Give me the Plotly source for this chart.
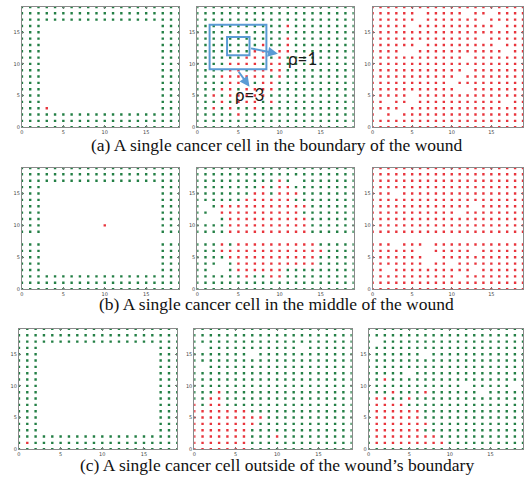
import plotly.graph_objects as go

# ---------------- data: grid states per panel (rows from y=19 down to y=0, x=0..19) -------------
# 'g' = healthy (green) cell, 'r' = cancer (red) cell, '.' = empty site
panel_a1 = [
    "gggggggggggggggggggg", "gggggggggggggggggggg", "gggggggggggggggggggg",
    "ggg..............ggg", "ggg..............ggg", "ggg..............ggg",
    "ggg..............ggg", "ggg..............ggg", "ggg..............ggg",
    "ggg..............ggg", "ggg..............ggg", "ggg..............ggg",
    "ggg..............ggg", "ggg..............ggg", "ggg..............ggg",
    "ggg..............ggg", "gggr.............ggg",
    "gggggggggggggggggggg", "gggggggggggggggggggg", "gggggggggggggggggggg",
]
panel_a2 = [
    "gggggggggggggggggggg", "gggggggggggggggggggg", "gggggggggggggggggggg",
    "gggggggggggrgggggggg", "gggggggggggggggggggg", "gggggggggggrgggggggg",
    "ggggggggrggrgggggggg", "gggggggrrgrrgggggggg", "ggggggrrrgrggggggggg",
    "ggggrrrrgrrggggggggg", "ggggrrgrrrrggggggggg", "gggrrrrrrgrggggggggg",
    "ggggrrrgrrgggggggggg", "gggrrgrrrrgggggggggg", "ggrgrrrrrggggggggggg",
    "gggrgrrrgrgggggggggg", "ggrgrggrgggggggggggg", "gggggrgggggggggggggg",
    "gggggggggggggggggggg", "gggggggggggggggggggg",
]
panel_a3 = [
    "rrrrrrrrrrrrrrrrrrrr", "rrrrrr.rrrrr.rr.rrrr", "rrrrrr.rrrrrrr.rrrrr",
    "rrrrr.rrrrrrrrrr.rrr", "rrrrrrrrrrrrrrrrrrrr", "rrrrrrrrrrrrrr.rrrrr",
    "rrrrrr.rrrrrrrrr.rrr", "rrrr..rrrrrrrrrrr.rr", "rrrrrrrrrrrr.rrrrrrr",
    "rrrrrrrrrrrrrrrrrrrr", "rrrrrrrrrrrr.rrrrrrr", "rrrrrrrrrrr.rrrrrrrr",
    "rrrrrrrrrr.rrrrrrrrr", "rrrrrrrrrrr..rrrrrrr", "rrrrr.rrrrrrrrrrrrrr",
    "rr.rr.rrrrrrrrrrr.rr", "rrrr.rrrrrrrrrrrrrrr", "r.r.rrrrrrrrrrrrrrrr",
    "rrrrrrrrrrrrrrrrrrrr", "rrrrrrrrrrrrrrrrrrrr",
]
panel_b1 = [
    "gggggggggggggggggggg", "gggggggggggggggggggg", "gggggggggggggggggggg",
    "ggg..............ggg", "ggg..............ggg", "ggg..............ggg",
    "ggg..............ggg", "ggg..............ggg", "ggg..............ggg",
    "ggg.......r......ggg", "ggg..............ggg", "....................",
    "ggg..............ggg", "ggg..............ggg", "ggg..............ggg",
    "ggg..............ggg", "ggg..............ggg",
    "gggggggggggggggggggg", "gggggggggggggggggggg", "gggggggggggggggggggg",
]
panel_b2 = [
    "gggggggggggggggggggg", "gggggggggggggggggggg", "ggggggggggrg.ggggggg",
    "ggggggggrgrrgggggggg", "gggggggrrgrrrggggggg", "ggggggrrrrrrgggggggg",
    "g.grrrrrrrrrrrgggggg", "gg.rrrrrrrrrrggggggg", "g..grrrrrrrrrrgggggg",
    "ggggrrrrrrrrrrgggggg", "ggggrrrrrrrrrrgggggg", "....................",
    "gggrgrrrrrrrrrrggggg", "gggrrrrrrrrrrrrrgggg", "ggggrrrrrrrrrrrggggg",
    "ggg.grrrrrrrrrrggggg", "gg..grrrrrrggggggggg", "ggggggrggrrggggggggg",
    "gggggggggggggggggggg", "gggggggggggggggggggg",
]
panel_b3 = [
    "rrrrrrrrrrrrrrrrrrrr", "rrrrrrrrrrrrrrrrrrrr", "rrrrrrrrrrrrrrrrrrrr",
    "rrrrrrrrrrrrrrrrrrrr", "rrr.rrrrrrrrrrrrrrrr", "rrrrrrrrrrrrrrrrrrrr",
    "rrrrrrrrrrrrr.rrrrrr", "rrrrrrrrrrr.rrrrrrrr", "rrrrrrrrrrrrrrrrrrrr",
    "rrrrrrrrrrrrrrrrrrrr", "rrrrrrrrrrrrrrrrrrrr", "....................",
    "rrr.rrr.rrrrrrrrrrrr", "rrrrrr..rrrrr.rrrrrr", "rrrrrrr..rrrrrrrrrrr",
    "rrrrrrr.rr.rrrrrrrrr", "rr.rrrrrrrrrr.rrrrrr", "rrrrrrrrrrr.rrrrrrrr",
    "rrrrrrrrrrrrrrrrrrrr", "rrrrrrrrrrrrrrrrrrrr",
]
panel_c1 = [
    "gggggggggggggggggggg", "gggggggggggggggggggg", "gggggggggggggggggggg",
    "ggg..............ggg", "ggg..............ggg", "ggg..............ggg",
    "ggg..............ggg", "ggg..............ggg", "ggg..............ggg",
    "ggg..............ggg", "ggg..............ggg", "ggg..............ggg",
    "ggg..............ggg", "ggg..............ggg", "ggg..............ggg",
    "ggg..............ggg", "ggg..............ggg",
    "gggggggggggggggggggg", "grgggggggggggggggggg", "gggggggggggggggggggg",
]
panel_c2 = [
    "gggggggggggggggggggg", "gggggggggggggggggggg", "gggggggggggggggggggg",
    "g.ggggggggggg.gggggg", "ggggggg.gggggggggggg", "gggggggggggggggggggg",
    "g.gggggggggggggggggg", "gggggggggggggggggggg", "gggggggggggggggggggg",
    "gggggggggggggggggggg", "gggrgggggggggggggggg", "ggrrgggggggggggggggg",
    "rgrrgggggggggggggggg", "rrrrrrrggggggggggggg", "rrrrrrrrrggggggggggg",
    "rrrrrrrrgggggggggggg", "rrrrrrrggggggggggggg", "rrrrrrrgggrggggggggg",
    "rrrrrrrggggggggggggg", "rrrrrrrggggggggggggg",
]
panel_c3 = [
    "gggggggggggggggggggg", "gggggggggggggggggggg", "g.gggggggggggggggggg",
    "gggggggggggggggggggg", "ggggggg.gggggggggggg", "gggggggggggggggggggg",
    "gggggggggggggggggggg", "ggggg.gggggggggggggg", "ggrggggggggggggggggg",
    "gggggggggggg.ggggg.g", "gggrgggrgggggg.ggggg", "grrggrgggggggggggggg",
    "grrrrggggggggggggggg", "grrrrrrggggggggggggg", "grrrrrrggggggggggggg",
    "grrrrrrrgggggggggggg", "grrrrrrggggggggggggg", "grrrrrrrrggggggggggg",
    "grrrrrrrrrgggggggggg", "gggggggggggggggggggg",
]

panels = [panel_a1, panel_a2, panel_a3,
          panel_b1, panel_b2, panel_b3,
          panel_c1, panel_c2, panel_c3]

tick_vals = [0, 5, 10, 15]
tick_text = ["0", "5", "10", "15"]

captions = [
    "(a) A single cancer cell in the boundary of the wound",
    "(b) A single cancer cell in the middle of the wound",
    "(c) A single cancer cell outside of the wound\u2019s boundary",
]
rho_labels = ["\u03c1=1", "\u03c1=3"]

# ---------------- layout geometry (pixels) ----------------
W, H = 524, 478
cols_ab = [(20, 178), (196, 353), (372, 523)]
cols_c = [(17, 176), (193, 351), (368, 523)]
rows_px = [(7, 128), (169, 291), (331, 452)]

GREEN = "#237f45"
RED = "#e8343c"

fig = go.Figure()
layout = {}
for i, grid in enumerate(panels):
    r, c = divmod(i, 3)
    xs_g, ys_g, xs_r, ys_r = [], [], [], []
    n = len(grid)
    for ri, row in enumerate(grid):
        y = n - 1 - ri
        for x, ch in enumerate(row):
            if ch == "g":
                xs_g.append(x); ys_g.append(y)
            elif ch == "r":
                xs_r.append(x); ys_r.append(y)
    k = "" if i == 0 else str(i + 1)
    for xs, ys, col in ((xs_g, ys_g, GREEN), (xs_r, ys_r, RED)):
        fig.add_trace(go.Scatter(
            x=xs, y=ys, mode="markers", xaxis="x" + k, yaxis="y" + k,
            marker=dict(size=2.4, color=col, symbol="square", line=dict(width=0)),
            showlegend=False, hoverinfo="skip"))
    cx = cols_c[c] if r == 2 else cols_ab[c]
    ry = rows_px[r]
    common = dict(range=[0, 19], showgrid=False, zeroline=False, showline=True,
                  linecolor="#8a8a8a", linewidth=1, mirror="ticks", ticks="inside",
                  ticklen=2, tickwidth=0.6, tickcolor="#777", tickvals=tick_vals,
                  ticktext=tick_text, tickfont=dict(size=5, color="#444", family="DejaVu Sans"))
    layout["xaxis" + k] = dict(domain=[cx[0] / W, cx[1] / W], anchor="y" + k, **common)
    layout["yaxis" + k] = dict(domain=[1 - ry[1] / H, 1 - ry[0] / H], anchor="x" + k, **common)

fig.update_layout(**layout)

# caption texts
cap_y = [146, 306, 468]
annotations = []
for t, yy in zip(captions, cap_y):
    annotations.append(dict(text=t, x=276 / W, y=1 - yy / H, xref="paper", yref="paper",
                            showarrow=False, xanchor="center", yanchor="middle",
                            font=dict(family="Liberation Serif", size=17.5, color="#111")))

# blue neighbourhood annotations on panel (a) middle
shapes = [
    dict(type="rect", xref="x2", yref="y2", x0=1.5, x1=8.4, y0=9.15, y1=16.2,
         line=dict(color="#5b9bd5", width=2)),
    dict(type="rect", xref="x2", yref="y2", x0=3.62, x1=6.35, y0=11.35, y1=14.24,
         line=dict(color="#5b9bd5", width=2)),
]
annotations.append(dict(x=9.8, y=11.6, ax=6.35, ay=12.5, xref="x2", yref="y2",
                        axref="x2", ayref="y2", text="", showarrow=True, arrowhead=2,
                        arrowsize=1, arrowwidth=2, arrowcolor="#5b9bd5"))
annotations.append(dict(x=6.35, y=6.4, ax=4.9, ay=9.0, xref="x2", yref="y2",
                        axref="x2", ayref="y2", text="", showarrow=True, arrowhead=2,
                        arrowsize=1, arrowwidth=2, arrowcolor="#5b9bd5"))
annotations.append(dict(x=12.8, y=10.9, xref="x2", yref="y2", text=rho_labels[0],
                        showarrow=False, font=dict(family="Lato", size=17, color="#1a1a1a")))
annotations.append(dict(x=6.3, y=5.1, xref="x2", yref="y2", text=rho_labels[1],
                        showarrow=False, font=dict(family="Lato", size=17, color="#1a1a1a")))

fig.update_layout(width=W, height=H, margin=dict(l=0, r=0, t=0, b=0),
                  paper_bgcolor="white", plot_bgcolor="white",
                  annotations=annotations, shapes=shapes)

fig.write_html("out.html", config={"displayModeBar": False},
               post_script="document.body.style.margin='0';")
